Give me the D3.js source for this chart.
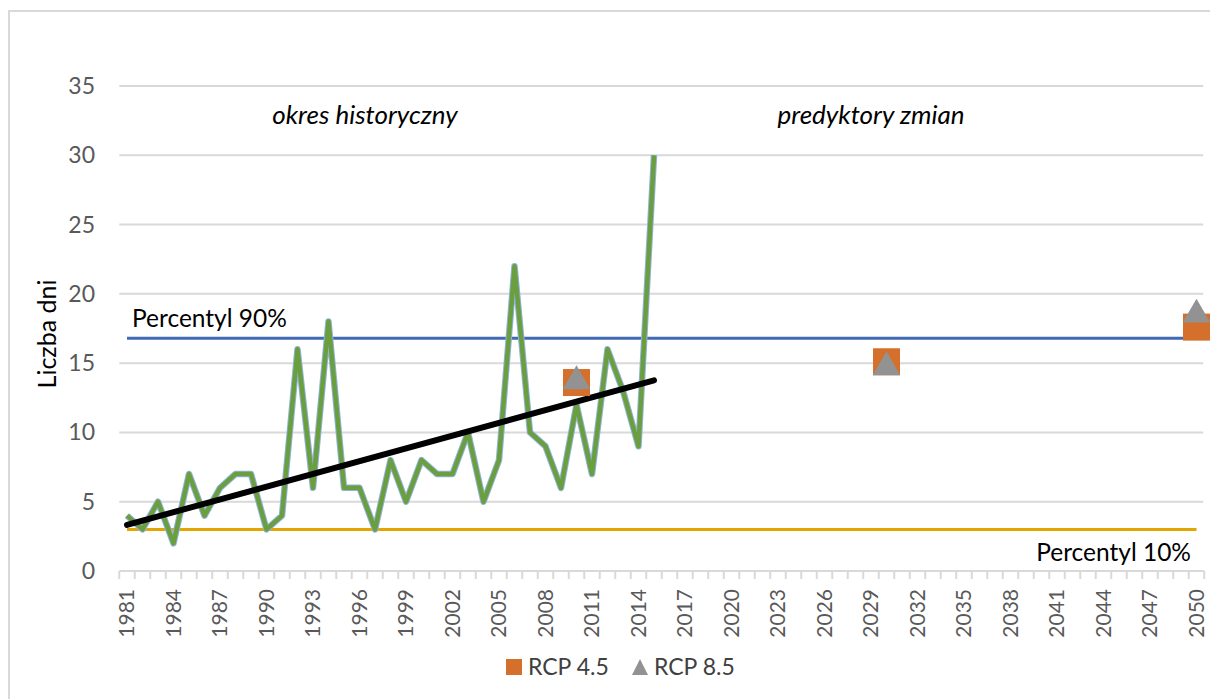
<!DOCTYPE html>
<html>
<head>
<meta charset="utf-8">
<script src="https://cdn.jsdelivr.net/npm/d3@7"></script>
<style>
  body { margin: 0; background: #fff; }
  svg { display: block; font-family: Lato, "Open Sans", sans-serif; }
</style>
</head>
<body>
<div id="chart"></div>
<script>
// categories and values
var years = d3.range(1981, 2051);
var histYears = d3.range(1981, 2016);
var histValues = [4, 3, 5, 2, 7, 4, 6, 7, 7, 3, 4, 16, 6, 18, 6, 6, 3, 8, 5, 8,
                  7, 7, 10, 5, 8, 22, 10, 9, 6, 12, 7, 16, 13, 9, 30];
var p90 = 16.8;
var p10 = 3;
var rcpYears = [2010, 2030, 2050];
var rcp45 = [13.6, 15.1, 17.6];
var rcp85 = [13.7, 14.7, 18.5];
var yTicks = [0, 5, 10, 15, 20, 25, 30, 35];

var W = 1210, H = 699;
var plotLeft = 119.25, plotRight = 1204.25, plotTop = 86, plotBottom = 571;

var svg = d3.select("#chart").append("svg")
    .attr("width", W)
    .attr("height", H);

// chart border (cut at the right and bottom)
svg.append("path")
    .attr("d", "M9," + (H + 5) + "V11H" + (W + 5))
    .attr("fill", "none")
    .attr("stroke", "#d9d9d9")
    .attr("stroke-width", 2);

var x = d3.scaleBand()
    .domain(years)
    .range([plotLeft, plotRight]);
var y = d3.scaleLinear()
    .domain([0, 35])
    .range([plotBottom, plotTop]);
function cx(yr) { return x(yr) + x.bandwidth() / 2; }

// gridlines
svg.append("g").selectAll("line")
    .data(yTicks.filter(function(d) { return d > 0; }))
    .enter().append("line")
    .attr("x1", plotLeft).attr("x2", plotRight - 1)
    .attr("y1", function(d) { return y(d); })
    .attr("y2", function(d) { return y(d); })
    .attr("stroke", "#d9d9d9")
    .attr("stroke-width", 2);

// y axis labels
svg.append("g").selectAll("text")
    .data(yTicks)
    .enter().append("text")
    .attr("x", 95)
    .attr("y", function(d) { return y(d); })
    .attr("dy", "0.35em")
    .attr("text-anchor", "end")
    .attr("fill", "#595959")
    .style("font-size", "23px")
    .text(function(d) { return d; });

// x axis line and ticks
svg.append("line")
    .attr("x1", plotLeft).attr("x2", plotRight)
    .attr("y1", plotBottom).attr("y2", plotBottom)
    .attr("stroke", "#d9d9d9")
    .attr("stroke-width", 2);
svg.append("g").selectAll("line")
    .data(years.concat([2051]))
    .enter().append("line")
    .attr("x1", function(d) { return d === 2051 ? plotRight : x(d); })
    .attr("x2", function(d) { return d === 2051 ? plotRight : x(d); })
    .attr("y1", plotBottom).attr("y2", plotBottom + 8)
    .attr("stroke", "#d9d9d9")
    .attr("stroke-width", 2);

svg.append("g").selectAll("text")
    .data(years.filter(function(d) { return (d - 1981) % 3 === 0; }))
    .enter().append("text")
    .attr("transform", function(d) { return "translate(" + cx(d) + "," + (plotBottom + 18) + ") rotate(-90)"; })
    .attr("dy", "0.35em")
    .attr("text-anchor", "end")
    .attr("fill", "#595959")
    .style("font-size", "21px")
    .text(function(d) { return d; });

// y axis title
svg.append("text")
    .attr("transform", "translate(47,334) rotate(-90)")
    .attr("dy", "0.35em")
    .attr("text-anchor", "middle")
    .attr("fill", "#000")
    .style("font-size", "25px")
    .text("Liczba dni");

// percentile lines
var flat = d3.line()
    .x(function(d) { return cx(d.yr); })
    .y(function(d) { return y(d.v); });
svg.append("path")
    .datum(years.map(function(yr) { return {yr: yr, v: p10}; }))
    .attr("d", flat)
    .attr("fill", "none")
    .attr("stroke", "#e3a600")
    .attr("stroke-width", 3);
svg.append("path")
    .datum(years.map(function(yr) { return {yr: yr, v: p90}; }))
    .attr("d", flat)
    .attr("fill", "none")
    .attr("stroke", "#4169b4")
    .attr("stroke-width", 3);

// historical series
var hist = histYears.map(function(yr, i) { return {yr: yr, v: histValues[i]}; });
svg.append("path")
    .datum(hist)
    .attr("d", flat)
    .attr("fill", "none")
    .attr("stroke", "#8fb4dc")
    .attr("stroke-width", 6.5)
    .attr("stroke-linejoin", "round");
svg.append("path")
    .datum(hist)
    .attr("d", flat)
    .attr("fill", "none")
    .attr("stroke", "#6b9e3e")
    .attr("stroke-width", 4.5)
    .attr("stroke-linejoin", "round");

// linear trend of the historical series
var n = histValues.length;
var mx = d3.mean(d3.range(n)), my = d3.mean(histValues);
var slope = d3.sum(histValues, function(v, i) { return (i - mx) * (v - my); }) /
            d3.sum(d3.range(n), function(i) { return (i - mx) * (i - mx); });
var trend = [{yr: histYears[0], v: my - slope * mx},
             {yr: histYears[n - 1], v: my + slope * (n - 1 - mx)}];
svg.append("path")
    .datum(trend)
    .attr("d", flat)
    .attr("stroke", "#000")
    .attr("stroke-width", 6)
    .attr("stroke-linecap", "round");

// RCP markers
var sq = 27;
svg.append("g").selectAll("rect")
    .data(rcpYears)
    .enter().append("rect")
    .attr("x", function(d) { return cx(d) - sq / 2; })
    .attr("y", function(d, i) { return y(rcp45[i]) - sq / 2; })
    .attr("width", sq).attr("height", sq)
    .attr("fill", "#d4702b");
var tri = d3.symbol().type(d3.symbolTriangle).size(330);
svg.append("g").selectAll("path")
    .data(rcpYears)
    .enter().append("path")
    .attr("transform", function(d, i) { return "translate(" + cx(d) + "," + y(rcp85[i]) + ")"; })
    .attr("d", tri)
    .attr("fill", "#929292");

// annotations
svg.append("text")
    .attr("x", 365).attr("y", 124)
    .attr("text-anchor", "middle")
    .style("font-size", "26px").style("font-style", "italic")
    .attr("fill", "#000")
    .text("okres historyczny");
svg.append("text")
    .attr("x", 871).attr("y", 124)
    .attr("text-anchor", "middle")
    .style("font-size", "26px").style("font-style", "italic")
    .attr("fill", "#000")
    .text("predyktory zmian");
svg.append("text")
    .attr("x", 132).attr("y", 327)
    .style("font-size", "24.5px")
    .attr("fill", "#000")
    .text("Percentyl 90%");
svg.append("text")
    .attr("x", 1191).attr("y", 561)
    .attr("text-anchor", "end")
    .style("font-size", "24.5px")
    .attr("fill", "#000")
    .text("Percentyl 10%");

// legend
var leg = svg.append("g").style("font-size", "23px").attr("fill", "#404040");
leg.append("rect").attr("x", 506).attr("y", 659).attr("width", 16).attr("height", 16)
    .attr("fill", "#d4702b");
leg.append("text").attr("x", 528).attr("y", 675).text("RCP 4.5");
leg.append("path").attr("d", "M632,675L640,659L648,675Z").attr("fill", "#929292");
leg.append("text").attr("x", 654).attr("y", 675).text("RCP 8.5");
</script>
</body>
</html>
